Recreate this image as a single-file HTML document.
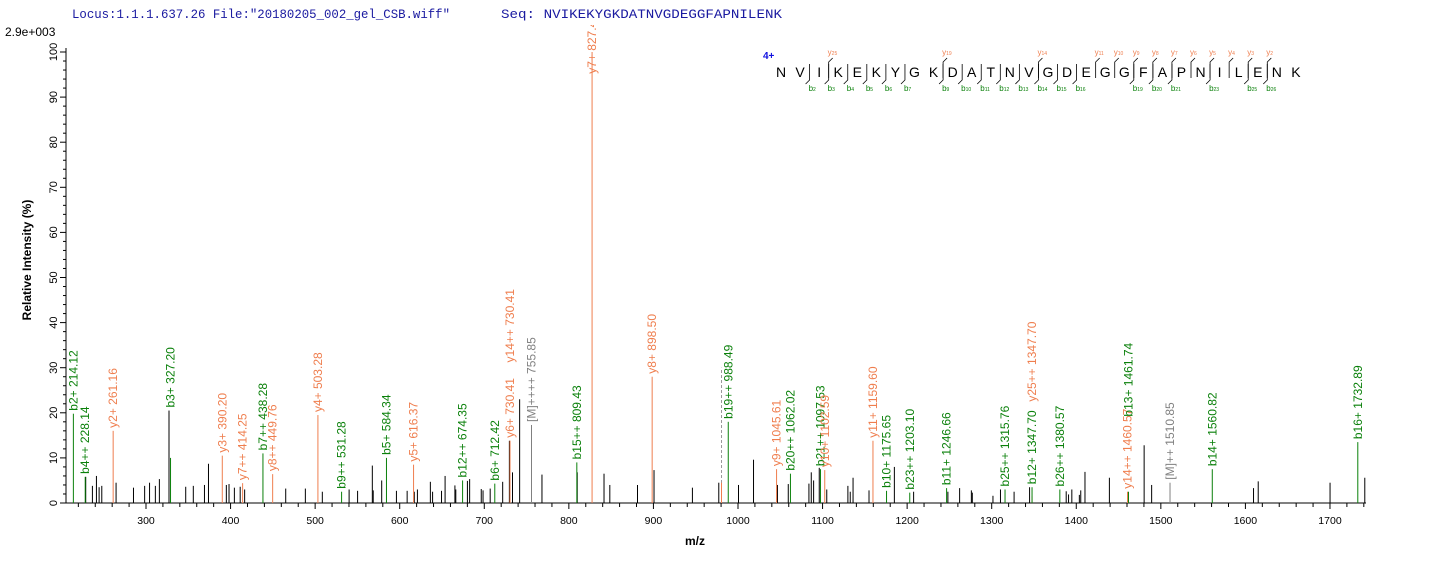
<!DOCTYPE html>
<html><head><meta charset="utf-8"><style>
body{margin:0;background:#fff}
svg{display:block;font-family:"Liberation Sans",Arial,sans-serif}
</style></head><body>
<svg id="s" width="1436" height="562" xmlns="http://www.w3.org/2000/svg">
<defs><clipPath id="c"><rect x="0" y="25" width="1436" height="540"/></clipPath></defs>
<text x="72" y="18" font-family="Liberation Mono,monospace" font-size="12.8" fill="#1a1aa0" textLength="378" lengthAdjust="spacingAndGlyphs">Locus:1.1.1.637.26 File:"20180205_002_gel_CSB.wiff"</text>
<text x="501" y="18" font-family="Liberation Mono,monospace" font-size="12.8" fill="#1a1aa0" textLength="281" lengthAdjust="spacingAndGlyphs">Seq: NVIKEKYGKDATNVGDEGGFAPNILENK</text>
<text x="5" y="36" font-size="12" fill="#000">2.9e+003</text>
<text transform="translate(31,260) rotate(-90)" text-anchor="middle" font-size="12" font-weight="bold">Relative  Intensity (%)</text>
<text x="685" y="545" font-size="12" font-weight="bold">m/z</text>
<text x="763" y="59" font-size="10" font-weight="bold" fill="#1010e0">4+</text>
<g id="g" clip-path="url(#c)"></g>
</svg>
<script>
var g=document.getElementById('g'),h='';
function X(m){return 146+(m-300)*0.8457}
function Y(v){return 503-4.51*v}
h+='<line x1="66" y1="503" x2="1366" y2="503" stroke="#000"/>';
h+='<line x1="66" y1="48" x2="66" y2="503" stroke="#000"/>';
for(var v=0;v<=100;v+=2){var y=Y(v);h+='<line x1="'+(v%10?63:60)+'" y1="'+y+'" x2="66" y2="'+y+'" stroke="#000"/>';
 if(v%10==0)h+='<text transform="translate(57,'+y+') rotate(-90)" text-anchor="middle" font-size="11">'+v+'</text>';}
for(var m=220;m<=1740;m+=20){var x=X(m);h+='<line x1="'+x+'" y1="503" x2="'+x+'" y2="'+(m%100?507:509)+'" stroke="#000"/>';
 if(m%100==0)h+='<text x="'+x+'" y="524" text-anchor="middle" font-size="10.5">'+m+'</text>';}
var b3=[[192,5.8],[207,3.8],[216,6],[222,3.5],[228,3.8],[260,4.5],[299,3.4],[324,3.8],[335,4.5],[348,3.8],[357,5.3],[416,3.6],[433,3.8],[458,4],[467,8.7],[507,4],[513,4.2],[525,3.4],[538,3.6],[548,3],[640,3.2],[684,3.2],[722,2.5],[782,3],[801,2.7],[834,8.3],[836,2.8],[855,5],[888,2.7],[912,2.7],[928,2.5],[935,3],[964,4.7],[969,2.5],[989,2.7],[997,6],[1019,3.9],[1021,3],[1047,4.9],[1052,5.3],[1078,3.1],[1082,2.8],[1098,3.2],[1126,4.7],[1141,13.8],[1148,6.8],[1164,23],[1214,6.3],[1293,6.8],[1353,6.5],[1366,4],[1428,4],[1465,7.3],[1551,3.4]];
var b4=[[40,4.5],[82,4],[114,9.6],[165,4],[188,4.2],[232,4.3],[237,6.8],[242,5],[254,7.8],[270,3],[315,3.8],[320,2.5],[326,5.6],[360,2.8],[414,8],[455,2.5],[528,2.5],[553,3.3],[578,2.8],[580,2.3],[624,1.6],[640,3],[669,2.5],[702,3.5],[780,2.6],[785,1.9],[792,3],[808,1.8],[811,2.8],[820,6.9],[872,5.6],[946,12.8],[962,4],[1179,3.3],[1189,4.8],[1342,4.5],[1416,5.6]];
b3.forEach(function(p){var x=p[0]/2.24;h+='<line x1="'+x+'" y1="503" x2="'+x+'" y2="'+Y(p[1])+'" stroke="#000"/>'});
b4.forEach(function(p){var x=700+p[0]/2.13;h+='<line x1="'+x+'" y1="503" x2="'+x+'" y2="'+Y(p[1])+'" stroke="#000"/>'});
h+='<line x1="'+X(327.2)+'" y1="503" x2="'+X(327.2)+'" y2="'+Y(20.5)+'" stroke="#000"/>';
h+='<line x1="'+X(980.51)+'" y1="503" x2="'+X(980.51)+'" y2="'+Y(30)+'" stroke="#999" stroke-dasharray="3,2"/>';
var O='#ef7e4e',G='#0a800a',GR='#808080';
var A=[[214.12,19.8,G,'b2+ 214.12'],[228.14,5.8,G,'b4++ 228.14'],[261.16,16,O,'y2+ 261.16'],[329,10,G,'b3+ 327.20',20.5],
[390.2,10.5,O,'y3+ 390.20'],[414.25,4.4,O,'y7++ 414.25'],[438.28,11,G,'b7++ 438.28'],[449.76,6.4,O,'y8++ 449.76'],
[503.28,19.5,O,'y4+ 503.28'],[531.28,2.5,G,'b9++ 531.28'],[584.34,10,G,'b5+ 584.34'],[616.37,8.5,O,'y5+ 616.37'],
[674.35,5,G,'b12++ 674.35'],[712.42,4.3,G,'b6+ 712.42'],[730.41,13.8,O,'y6+ 730.41'],[730.41,13.8,O,'y14++ 730.41',30.5],
[755.85,17.3,GR,'[M]++++ 755.85'],[809.43,9,G,'b15++ 809.43'],[827.46,100,O,'y7+ 827.46',94.5],[898.5,28,O,'y8+ 898.50'],
[980.51,4.5,O,''],[988.49,18,G,'b19++ 988.49'],[1045.61,7.5,O,'y9+ 1045.61'],[1062.02,6.5,G,'b20++ 1062.02'],
[1097.53,7.5,G,'b21++ 1097.53'],[1102.59,7.3,O,'y10+ 1102.59'],[1159.6,13.8,O,'y11+ 1159.60'],[1175.65,2.7,G,'b10+ 1175.65'],
[1203.1,2.3,G,'b23++ 1203.10'],[1246.66,3.3,G,'b11+ 1246.66'],[1315.76,3,G,'b25++ 1315.76'],[1347.7,1.5,O,'y25++ 1347.70',21.8],
[1347.7,3.5,G,'b12+ 1347.70'],[1380.57,3,G,'b26++ 1380.57'],[1460.57,2.5,O,'y14++ 1460.57'],[1461.74,2.5,G,'b13+ 1461.74',18.5],
[1510.85,4.5,GR,'[M]++ 1510.85'],[1560.82,7.5,G,'b14+ 1560.82'],[1732.89,13.5,G,'b16+ 1732.89']];
A.forEach(function(a){var x=X(a[0]);h+='<line x1="'+x+'" y1="503" x2="'+x+'" y2="'+Y(a[1])+'" stroke="'+a[2]+'"/>';
 if(!a[3])return;
 var ly=Y(a[4]||a[1])-3;h+='<text transform="translate('+(x+4)+','+ly+') rotate(-90)" font-size="12" fill="'+a[2]+'">'+a[3]+'</text>';});
var s='NVIKEKYGKDATNVGDEGGFAPNILENK',x0=781,dx=19.07;
for(var i=0;i<s.length;i++)h+='<text x="'+(x0+i*dx)+'" y="77" text-anchor="middle" font-size="14">'+s[i]+'</text>';
[2,3,4,5,6,7,9,10,11,12,13,14,15,16,19,20,21,23,25,26].forEach(function(n){var x=x0+(n-0.5)*dx;
 h+='<path d="M'+x+' 64 V80 L'+(x-4)+' 84" fill="none" stroke="#000" stroke-width="0.8"/>';
 h+='<text x="'+(x-1)+'" y="91" font-size="8" fill="'+G+'">b<tspan font-size="5">'+n+'</tspan></text>';});
[25,19,14,11,10,9,8,7,6,5,4,3,2].forEach(function(n){var x=x0+(28-n-0.5)*dx;
 h+='<path d="M'+(x+4)+' 58 L'+x+' 62 V78" fill="none" stroke="#000" stroke-width="0.8"/>';
 h+='<text x="'+(x-1)+'" y="55" font-size="8" fill="'+O+'">y<tspan font-size="5">'+n+'</tspan></text>';});
g.innerHTML=h;
</script>
</body></html>
